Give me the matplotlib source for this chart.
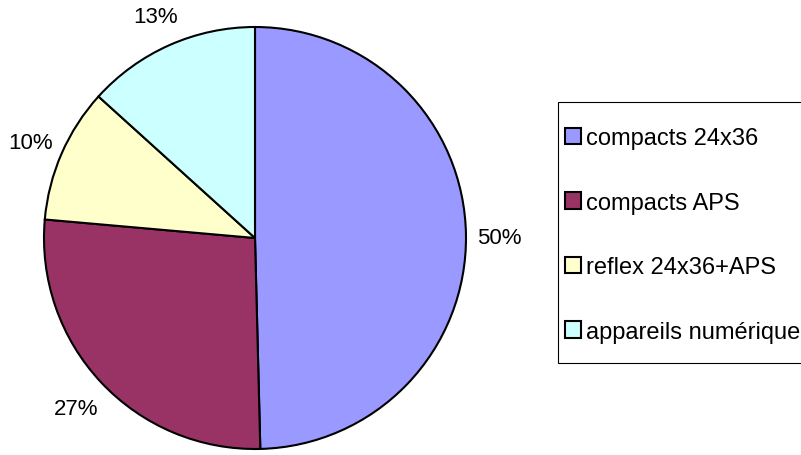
import matplotlib
matplotlib.use("Agg")
from matplotlib import pyplot as plt
from matplotlib.patches import Rectangle

# part de marché par type d'appareil (%)
labels = ["compacts 24x36", "compacts APS", "reflex 24x36+APS", "appareils numérique"]
values = [49.6, 26.8, 10.3, 13.3]
colors = ["#9999FF", "#993366", "#FFFFCC", "#CCFFFF"]

plt.rcParams['font.family'] = ['Liberation Sans', 'DejaVu Sans']

W, H = 801, 456
fig = plt.figure(figsize=(W / 100, H / 100), dpi=100)

# pie: centre (255, 239) px, rayon 211 px
cx, cy, r = 255, 239, 211
ax = fig.add_axes([(cx - r) / W, (H - cy - r) / H, 2 * r / W, 2 * r / H])
wedges, texts, autotexts = ax.pie(values, colors=colors, startangle=90, counterclock=False,
                                  autopct='%.0f%%', pctdistance=1.16,
                                  wedgeprops=dict(edgecolor='black', linewidth=1.5, clip_on=False),
                                  textprops=dict(fontsize=16, color='black'))
for t in autotexts:
    t.set_verticalalignment('center_baseline')
ax.set_xlim(-1, 1)
ax.set_ylim(-1, 1)
ax.set_aspect('equal')
ax.axis('off')

# cadre de la légende
fig.patches.append(Rectangle((558 / W, (H - 364) / H), (W + 10 - 558) / W, (364 - 103) / H,
                             transform=fig.transFigure, facecolor='white',
                             edgecolor='black', linewidth=0.8, zorder=0))

fig.legend(wedges, labels, loc='center left', bbox_to_anchor=(565 / W, (H - 236) / H),
           frameon=False, fontsize=17, borderpad=0, handlelength=0.68, handleheight=0.68,
           handletextpad=0.2, labelspacing=1.8, borderaxespad=0)

fig.savefig("out.png", dpi=100)
